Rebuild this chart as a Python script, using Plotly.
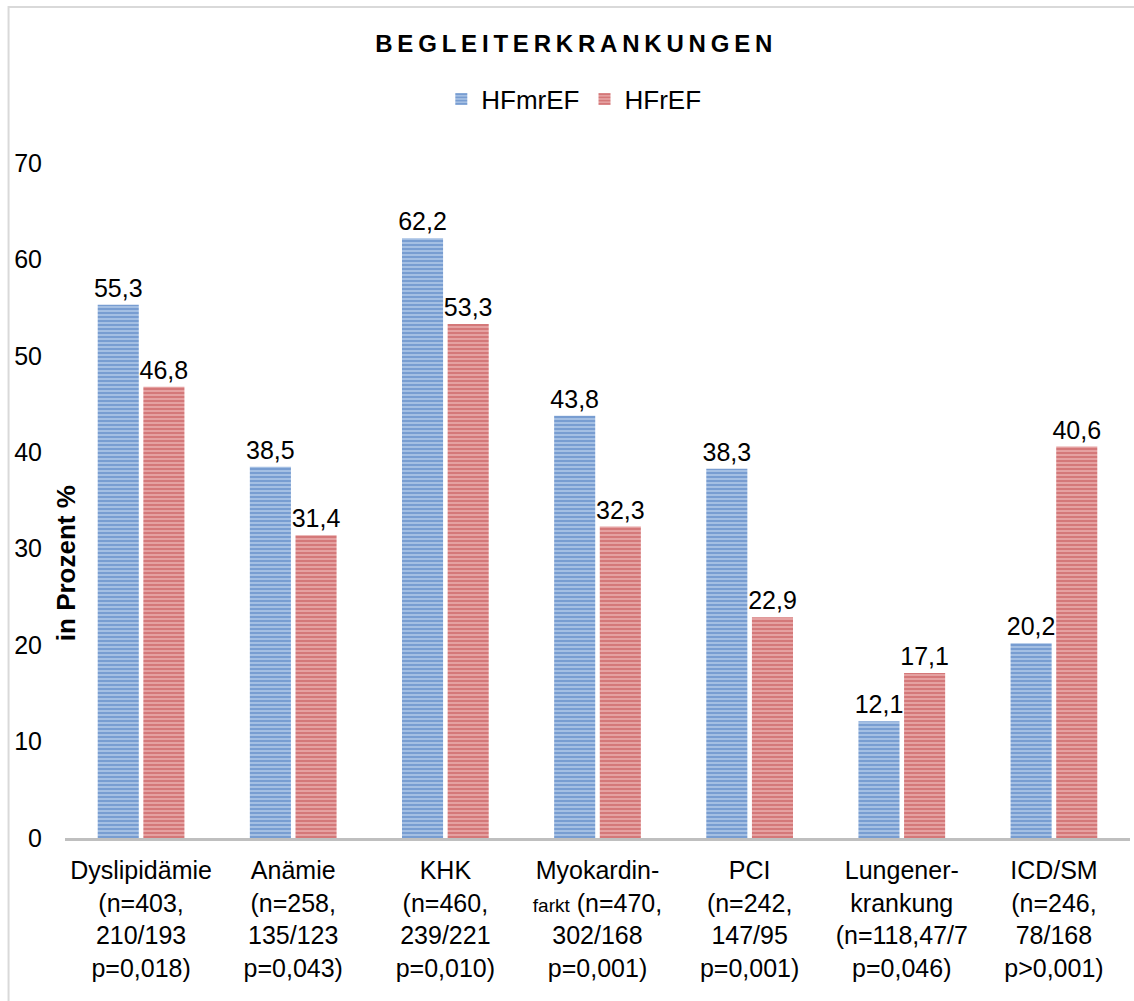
import plotly.graph_objects as go

# Begleiterkrankungen HFmrEF vs HFrEF
categories = ["Dyslipidämie", "Anämie", "KHK", "Myokardinfarkt", "PCI", "Lungenerkrankung", "ICD/SM"]
tick_labels = [
    "Dyslipidämie<br>(n=403,<br>210/193<br>p=0,018)",
    "Anämie<br>(n=258,<br>135/123<br>p=0,043)",
    "KHK<br>(n=460,<br>239/221<br>p=0,010)",
    "Myokardin-<br><span style='font-size:19px'>farkt</span> (n=470,<br>302/168<br>p=0,001)",
    "PCI<br>(n=242,<br>147/95<br>p=0,001)",
    "Lungener-<br>krankung<br>(n=118,47/7<br>p=0,046)",
    "ICD/SM<br>(n=246,<br>78/168<br>p>0,001)",
]
hfmref = [55.3, 38.5, 62.2, 43.8, 38.3, 12.1, 20.2]
hfref = [46.8, 31.4, 53.3, 32.3, 22.9, 17.1, 40.6]

font = "Liberation Sans, Arial, sans-serif"
title = "\u2009".join("BEGLEITERKRANKUNGEN")

fig = go.Figure()
fig.add_trace(go.Bar(
    x=categories, y=hfmref, name="HFmrEF",
    marker=dict(color="#AFC7E8", line_width=0,
                pattern=dict(shape="-", fgcolor="#4274BA", bgcolor="#AFC7E8", size=4, solidity=0.6)),
    texttemplate="%{y:.1f}", textposition="outside", constraintext="none",
    textfont=dict(size=25, color="black"),
))
fig.add_trace(go.Bar(
    x=categories, y=hfref, name="HFrEF",
    marker=dict(color="#E9ABAA", line_width=0,
                pattern=dict(shape="-", fgcolor="#C04547", bgcolor="#E9ABAA", size=4, solidity=0.6)),
    texttemplate="%{y:.1f}", textposition="outside", constraintext="none",
    textfont=dict(size=25, color="black"),
))

fig.update_layout(
    width=1134, height=1001,
    margin=dict(l=65, r=4, t=163, b=163),
    paper_bgcolor="white", plot_bgcolor="white",
    font=dict(family=font, color="black", size=25),
    separators=",.",
    barmode="group", bargap=0.4, bargroupgap=0.1,
    title=dict(text="<b>" + title + "</b>",
               font=dict(size=24, color="black"),
               x=0.506, xanchor="center", y=0.956, yanchor="middle"),
    legend=dict(orientation="h", xref="container", yref="container",
                x=0.506, xanchor="center", y=0.901, yanchor="middle",
                font=dict(size=26), itemwidth=30),
    showlegend=True,
)
fig.update_xaxes(
    tickvals=categories, ticktext=tick_labels,
    showline=True, linecolor="#BFBFBF", linewidth=3,
    ticks="", showgrid=False, tickfont=dict(size=25), ticklabelstandoff=8,
)
fig.update_yaxes(
    range=[0, 70], dtick=10, showgrid=False, zeroline=False, showline=False,
    ticks="", ticklabelstandoff=22, tickfont=dict(size=25),
)

# y-axis title sits between tick labels and bars
fig.add_annotation(text="<b>in Prozent %</b>", textangle=-90,
                   xref="paper", yref="y", x=0, y=28.5, xshift=1, xanchor="center",
                   showarrow=False, font=dict(size=26))

# light frame on left and top
fig.add_shape(type="rect", xref="paper", yref="paper",
              x0=-0.053, x1=1.2, y0=-0.5, y1=1.231,
              line=dict(color="#D9D9D9", width=2), layer="below")

fig.write_html("out.html", config={"displayModeBar": False},
               post_script="document.body.style.margin='0';")
